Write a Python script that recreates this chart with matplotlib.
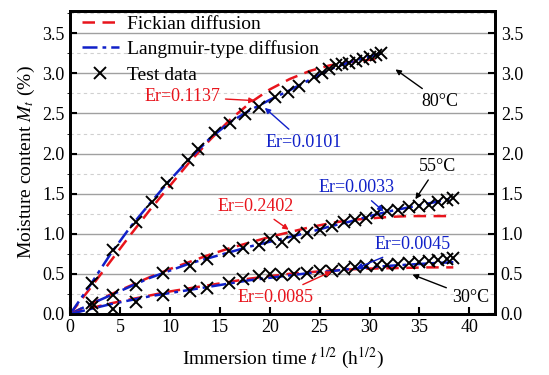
import matplotlib
matplotlib.use("Agg")
import matplotlib.pyplot as plt
from matplotlib.ticker import MultipleLocator

plt.rcParams['font.family'] = ['Liberation Serif', 'DejaVu Serif']
plt.rcParams['mathtext.fontset'] = 'stix'

# ---- test data ----
x80 = [2.2, 4.3, 6.6, 8.2, 9.7, 11.8, 12.8, 14.5, 16.0, 17.5, 18.9, 20.5, 21.8, 22.9,
       24.4, 25.2, 25.9, 26.6, 27.2, 27.9, 28.6, 29.3, 30.0, 30.7, 31.2]
y80 = [0.39, 0.80, 1.14, 1.39, 1.63, 1.92, 2.06, 2.26, 2.38, 2.49, 2.58, 2.70, 2.77, 2.84,
       2.95, 3.00, 3.06, 3.10, 3.12, 3.13, 3.15, 3.18, 3.20, 3.23, 3.25]

x_lo = [2.2, 4.3, 6.6, 9.3, 12.0, 13.7, 15.9, 17.3, 18.9, 20.0, 21.2, 22.4, 23.7, 25.0,
        26.2, 27.4, 28.5, 29.6, 30.8, 31.8, 32.9, 34.0, 35.0, 36.0, 36.9, 37.8, 38.4]
y55 = [0.13, 0.24, 0.36, 0.51, 0.60, 0.69, 0.78, 0.82, 0.86, 0.93, 0.90, 0.96, 1.01, 1.05,
       1.10, 1.14, 1.17, 1.20, 1.26, 1.28, 1.30, 1.33, 1.34, 1.36, 1.39, 1.42, 1.45]
y30 = [0.09, 0.06, 0.15, 0.24, 0.28, 0.32, 0.38, 0.43, 0.47, 0.50, 0.49, 0.50, 0.51, 0.53,
       0.54, 0.56, 0.58, 0.60, 0.61, 0.61, 0.62, 0.63, 0.65, 0.66, 0.67, 0.68, 0.70]

# ---- fitted curves ----
fx80 = [0, 2, 4, 6, 8, 10, 12, 14, 16, 18, 20, 22, 24, 26, 28, 30, 31.2]
fick80 = [0, 0.32, 0.65, 0.98, 1.30, 1.60, 1.90, 2.17, 2.42, 2.63, 2.80, 2.93, 3.03, 3.10, 3.14, 3.17, 3.18]
lang80 = [0, 0.36, 0.74, 1.08, 1.38, 1.67, 1.94, 2.19, 2.39, 2.54, 2.67, 2.79, 2.92, 3.05, 3.14, 3.21, 3.25]

fx_lo = [0, 2, 4, 6, 8, 10, 12, 14, 16, 18, 20, 22, 24, 26, 28, 30, 32, 34, 36, 38.4]
fick55 = [0, 0.12, 0.24, 0.35, 0.46, 0.56, 0.65, 0.74, 0.82, 0.89, 0.96, 1.02, 1.08, 1.13, 1.17, 1.19, 1.21, 1.22, 1.22, 1.22]
lang55 = [0, 0.12, 0.23, 0.34, 0.45, 0.54, 0.63, 0.70, 0.77, 0.84, 0.90, 0.96, 1.02, 1.09, 1.15, 1.22, 1.28, 1.33, 1.38, 1.44]
fick30 = [0, 0.07, 0.13, 0.18, 0.23, 0.28, 0.32, 0.36, 0.40, 0.44, 0.47, 0.50, 0.52, 0.54, 0.555, 0.565, 0.57, 0.575, 0.58, 0.58]
lang30 = [0, 0.06, 0.12, 0.17, 0.22, 0.26, 0.30, 0.34, 0.38, 0.42, 0.45, 0.48, 0.51, 0.53, 0.56, 0.58, 0.60, 0.615, 0.63, 0.645]

legend_labels = ["Fickian diffusion", "Langmuir-type diffusion", "Test data"]
ytick_vals = [0, 0.5, 1.0, 1.5, 2.0, 2.5, 3.0, 3.5]
ytick_labels = ['0.0', '0.5', '1.0', '1.5', '2.0', '2.5', '3.0', '3.5']

RED = '#e8141c'
BLUE = '#1020c8'

fig = plt.figure(figsize=(5.49, 3.75), dpi=100)
ax = fig.add_axes([0.128, 0.163, 0.774, 0.808])

ax.set_xlim(0, 42.6)
ax.set_ylim(0, 3.78)
ax.yaxis.set_minor_locator(MultipleLocator(0.25))
ax.xaxis.set_major_locator(MultipleLocator(5))
ax.grid(True, which='major', axis='y', color='#a0a0a0', lw=1.0, ls='-')
ax.grid(True, which='minor', axis='y', color='#d0d0d0', lw=0.8, ls=(0, (3, 3)))
ax.set_axisbelow(True)

fick_style = dict(color=RED, lw=1.8, ls=(0, (5, 3)))
lang_style = dict(color=BLUE, lw=1.8, ls=(0, (6, 2, 1.5, 2)))
mk_style = dict(ls='none', marker='x', color='black', ms=8, mew=1.4)

l1, = ax.plot(fx80, fick80, label=legend_labels[0], zorder=3, **fick_style)
l2, = ax.plot(fx80, lang80, label=legend_labels[1], zorder=3, **lang_style)
l3, = ax.plot(x80, y80, label=legend_labels[2], zorder=4, **mk_style)
ax.plot(fx_lo, fick55, zorder=3, **fick_style)
ax.plot(fx_lo, lang55, zorder=3, **lang_style)
ax.plot(x_lo, y55, zorder=4, **mk_style)
ax.plot(fx_lo, fick30, zorder=3, **fick_style)
ax.plot(fx_lo, lang30, zorder=3, **lang_style)
ax.plot(x_lo, y30, zorder=4, **mk_style)

leg = ax.legend(handles=[l1, l2, l3], loc='upper left', frameon=False, fontsize=14,
                handlelength=1.9, handletextpad=0.4, labelspacing=0.4,
                borderaxespad=0.2, bbox_to_anchor=(0.0, 1.025))

for sp in ax.spines.values():
    sp.set_linewidth(2.0)

ax.tick_params(axis='both', which='major', direction='in', length=5, width=1.5,
               labelsize=13, pad=4)
ax.tick_params(axis='y', which='minor', left=False, right=False)
ax.set_yticks(ytick_vals)
ax.set_yticklabels(ytick_labels)

ax2 = ax.twinx()
ax2.set_ylim(ax.get_ylim())
ax2.set_yticks(ytick_vals)
ax2.set_yticklabels(ytick_labels)
ax2.tick_params(axis='y', direction='in', length=5, width=1.5, labelsize=13, pad=4)
for sp in ax2.spines.values():
    sp.set_linewidth(2.0)

ax.set_xlabel(r'Immersion time $t^{1/2}$ (h$^{1/2}$)', fontsize=14, labelpad=7)
ax.set_ylabel(r'Moisture content $M_t$ (%)', fontsize=14, labelpad=4)

def note(text, xy, xytext, color):
    ax.annotate(text, xy=xy, xytext=xytext, color=color, fontsize=13,
                ha='center', va='center', zorder=6,
                arrowprops=dict(arrowstyle='-|>', color=color, lw=1.0,
                                mutation_scale=8, shrinkA=2, shrinkB=0))

note('Er=0.1137', (18.5, 2.66), (11.2, 2.71), RED)
note('Er=0.0101', (19.5, 2.57), (23.4, 2.14), BLUE)
note('80\u00b0C', (32.6, 3.05), (37.1, 2.65), 'black')
note('55\u00b0C', (34.6, 1.43), (36.8, 1.84), 'black')
note('Er=0.0033', (31.4, 1.28), (28.7, 1.575), BLUE)
note('Er=0.2402', (21.9, 1.05), (18.6, 1.34), RED)
note('Er=0.0045', (28.7, 0.57), (34.3, 0.86), BLUE)
note('Er=0.0085', (26.2, 0.53), (20.6, 0.21), RED)
note('30\u00b0C', (34.3, 0.49), (40.1, 0.21), 'black')

fig.savefig('out.png', dpi=100)
